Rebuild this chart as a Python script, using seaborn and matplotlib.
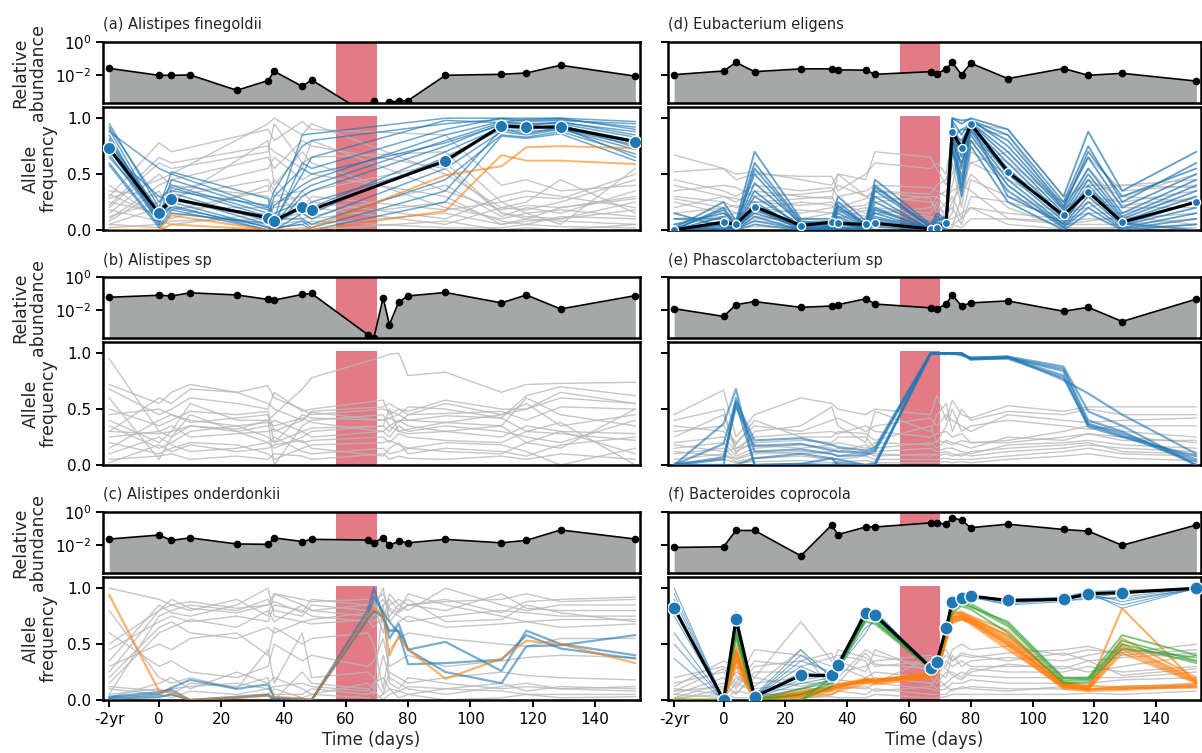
import numpy as np
import pandas as pd
import matplotlib
matplotlib.use("Agg")
import matplotlib.pyplot as plt
import seaborn as sns
from matplotlib.ticker import FixedLocator, NullLocator

# --- sampling times (days); -2yr sample drawn at -16 ---
TIMES = [-16, 0, 4, 10, 25, 35, 37, 46, 49, 67, 69, 72, 74, 77, 80, 92, 110, 118, 129, 153]
TIMES_A = [-16, 0, 4, 35, 37, 46, 49, 92, 110, 118, 129, 153]
TIMES_B = [-16, 0, 4, 10, 25, 35, 37, 46, 49, 72, 74, 77, 80, 92, 110, 118, 129, 153]
XTICKS = [-16, 0, 20, 40, 60, 80, 100, 120, 140]
XTICKLABELS = ['-2yr', '0', '20', '40', '60', '80', '100', '120', '140']
ABX_START, ABX_END = 57, 70

TITLES = ['(a) Alistipes finegoldii', '(b) Alistipes sp', '(c) Alistipes onderdonkii',
          '(d) Eubacterium eligens', '(e) Phascolarctobacterium sp', '(f) Bacteroides coprocola']

# --- relative abundance, log10 ---
labund_a = [-1.6, -2.02, -2.02, -2.0, -2.93, -2.34, -1.78, -2.69, -2.3, -4.4, -3.6, -4.0,
            -3.62, -3.6, -3.55, -2.02, -1.96, -1.88, -1.41, -2.07]
labund_b = [-1.23, -1.11, -1.15, -0.96, -1.09, -1.36, -1.4, -1.06, -1.0, -3.49, -3.7, -1.26,
            -2.89, -1.51, -1.15, -0.94, -1.57, -1.09, -1.94, -1.13]
labund_c = [-1.64, -1.4, -1.72, -1.57, -1.94, -1.96, -1.57, -1.79, -1.66, -1.7, -1.87, -1.55,
            -2.02, -1.77, -1.87, -1.66, -1.87, -1.72, -1.09, -1.64]
labund_d = [-1.98, -1.76, -1.24, -1.8, -1.63, -1.63, -1.69, -1.71, -1.96, -1.8, -1.94, -1.63,
            -1.24, -1.98, -1.29, -2.22, -1.61, -2.02, -1.9, -2.37]
labund_e = [-1.92, -2.39, -1.68, -1.49, -1.84, -1.76, -1.68, -1.32, -1.64, -1.87, -1.95, -1.64,
            -1.09, -1.76, -1.57, -1.45, -2.08, -1.84, -2.7, -1.34]
labund_f = [-2.15, -2.11, -1.12, -1.12, -2.66, -0.79, -1.37, -0.91, -0.91, -0.66, -0.66, -0.74,
            -0.34, -0.51, -0.95, -0.74, -1.06, -1.16, -2.02, -0.79]

# --- allele frequencies: (a) Alistipes finegoldii ---
mean_a = [0.73, 0.15, 0.28, 0.11, 0.08, 0.21, 0.18, 0.62, 0.93, 0.92, 0.92, 0.79]
blue_a = [
    [0.95, 0.20, 0.52, 0.28, 0.10, 0.85, 0.86, 1.00, 1.00, 1.00, 1.00, 0.97],
    [0.90, 0.12, 0.45, 0.18, 0.05, 0.60, 0.55, 0.90, 1.00, 0.98, 0.99, 0.92],
    [0.85, 0.08, 0.38, 0.12, 0.22, 0.40, 0.45, 0.85, 0.97, 0.95, 0.96, 0.88],
    [0.80, 0.05, 0.33, 0.08, 0.02, 0.30, 0.35, 0.75, 0.95, 0.93, 0.97, 0.85],
    [0.78, 0.18, 0.30, 0.05, 0.15, 0.25, 0.20, 0.70, 0.92, 0.90, 0.93, 0.80],
    [0.75, 0.10, 0.27, 0.10, 0.05, 0.20, 0.15, 0.65, 0.90, 0.88, 0.90, 0.76],
    [0.70, 0.30, 0.25, 0.02, 0.00, 0.15, 0.10, 0.55, 0.88, 0.85, 0.90, 0.72],
    [0.68, 0.07, 0.22, 0.00, 0.10, 0.10, 0.05, 0.45, 0.85, 0.83, 0.88, 0.68],
    [0.65, 0.15, 0.20, 0.03, 0.00, 0.08, 0.02, 0.35, 0.90, 0.86, 0.92, 0.65],
    [0.60, 0.04, 0.18, 0.00, 0.02, 0.05, 0.00, 0.25, 0.84, 0.82, 0.86, 0.62],
    [0.88, 0.55, 0.50, 0.20, 0.35, 0.75, 0.80, 0.95, 0.99, 0.97, 0.98, 0.95],
    [0.92, 0.25, 0.40, 0.15, 0.08, 0.50, 0.65, 0.98, 0.96, 0.99, 1.00, 0.90],
    [0.58, 0.02, 0.15, 0.06, 0.12, 0.18, 0.25, 0.60, 0.93, 0.91, 0.94, 0.74],
    [0.82, 0.12, 0.35, 0.22, 0.05, 0.35, 0.40, 0.80, 0.96, 0.95, 0.95, 0.83],
    [0.72, 0.08, 0.28, 0.12, 0.30, 0.55, 0.50, 0.78, 0.94, 0.92, 0.91, 0.78],
]
orange_a = [
    [0.00, 0.00, 0.13, 0.00, 0.00, 0.00, 0.02, 0.49, 0.57, 0.74, 0.75, 0.73],
    [0.00, 0.00, 0.05, 0.00, 0.00, 0.00, 0.00, 0.17, 0.67, 0.62, 0.62, 0.59],
]
gray_a = [
    [0.30, 0.78, 0.70, 0.90, 0.80, 0.97, 0.90, 0.85, 0.40, 0.45, 0.35, 0.40],
    [0.20, 0.60, 0.55, 0.70, 0.95, 0.60, 0.65, 0.70, 0.25, 0.30, 0.28, 0.50],
    [0.10, 0.40, 0.45, 0.65, 0.55, 0.80, 0.75, 0.55, 0.15, 0.10, 0.20, 0.30],
    [0.35, 0.30, 0.35, 0.55, 0.65, 0.45, 0.50, 0.30, 0.05, 0.08, 0.10, 0.25],
    [0.05, 0.20, 0.25, 0.80, 0.40, 0.70, 0.60, 0.20, 0.10, 0.15, 0.05, 0.55],
    [0.25, 0.15, 0.10, 0.40, 0.30, 0.35, 0.25, 0.10, 0.30, 0.35, 0.30, 0.20],
    [0.15, 0.50, 0.40, 0.30, 0.20, 0.25, 0.20, 0.05, 0.20, 0.25, 0.45, 0.15],
    [0.40, 0.10, 0.20, 0.20, 0.10, 0.15, 0.10, 0.25, 0.08, 0.05, 0.12, 0.10],
    [0.02, 0.05, 0.08, 0.10, 0.05, 0.08, 0.05, 0.15, 0.05, 0.10, 0.08, 0.05],
    [0.12, 0.25, 0.30, 0.45, 0.35, 0.10, 0.12, 0.40, 0.12, 0.20, 0.15, 0.35],
    [0.08, 0.35, 0.15, 0.05, 0.02, 0.05, 0.08, 0.02, 0.02, 0.05, 0.03, 0.02],
    [0.28, 0.45, 0.50, 0.95, 1.00, 0.85, 0.95, 0.50, 0.20, 0.18, 0.25, 0.45],
    [0.18, 0.08, 0.05, 0.15, 0.25, 0.30, 0.35, 0.60, 0.15, 0.12, 0.10, 0.18],
    [0.05, 0.02, 0.00, 0.00, 0.00, 0.02, 0.00, 0.08, 0.00, 0.02, 0.00, 0.05],
    [0.22, 0.65, 0.60, 0.75, 0.70, 0.55, 0.80, 0.35, 0.18, 0.22, 0.20, 0.28],
    [0.32, 0.12, 0.18, 0.35, 0.45, 0.20, 0.30, 0.18, 0.25, 0.15, 0.18, 0.12],
]

# --- (b) Alistipes sp ---
gray_b = [
    [0.30, 0.28, 0.30, 0.35, 0.32, 0.40, 0.45, 0.68, 0.78, 0.97, 0.99, 1.00, 0.80, 0.83, 0.65, 0.72, 0.73, 0.74],
    [0.95, 0.30, 0.25, 0.35, 0.30, 0.20, 0.15, 0.25, 0.30, 0.35, 0.30, 0.40, 0.35, 0.30, 0.25, 0.35, 0.30, 0.28],
    [0.72, 0.55, 0.65, 0.72, 0.65, 0.71, 0.60, 0.50, 0.45, 0.50, 0.48, 0.45, 0.52, 0.50, 0.42, 0.62, 0.70, 0.62],
    [0.68, 0.45, 0.50, 0.60, 0.55, 0.50, 0.65, 0.48, 0.50, 0.58, 0.45, 0.50, 0.48, 0.58, 0.50, 0.50, 0.65, 0.55],
    [0.50, 0.35, 0.40, 0.48, 0.45, 0.48, 0.30, 0.40, 0.47, 0.40, 0.42, 0.38, 0.45, 0.46, 0.48, 0.40, 0.52, 0.50],
    [0.40, 0.20, 0.30, 0.55, 0.40, 0.40, 0.00, 0.35, 0.40, 0.45, 0.35, 0.40, 0.40, 0.38, 0.45, 0.55, 0.35, 0.45],
    [0.35, 0.15, 0.20, 0.30, 0.35, 0.25, 0.20, 0.30, 0.25, 0.30, 0.25, 0.35, 0.30, 0.35, 0.30, 0.25, 0.20, 0.40],
    [0.25, 0.30, 0.35, 0.25, 0.28, 0.30, 0.32, 0.20, 0.22, 0.25, 0.20, 0.28, 0.25, 0.22, 0.20, 0.30, 0.28, 0.22],
    [0.20, 0.10, 0.15, 0.20, 0.18, 0.10, 0.05, 0.15, 0.18, 0.20, 0.22, 0.18, 0.15, 0.20, 0.18, 0.12, 0.00, 0.15],
    [0.15, 0.40, 0.45, 0.40, 0.35, 0.38, 0.35, 0.42, 0.38, 0.30, 0.35, 0.30, 0.32, 0.38, 0.35, 0.20, 0.30, 0.10],
    [0.10, 0.25, 0.18, 0.12, 0.15, 0.20, 0.25, 0.12, 0.10, 0.15, 0.10, 0.12, 0.15, 0.12, 0.10, 0.20, 0.15, 0.50],
    [0.05, 0.08, 0.10, 0.05, 0.08, 0.05, 0.10, 0.08, 0.05, 0.10, 0.05, 0.08, 0.06, 0.05, 0.08, 0.05, 0.10, 0.05],
    [0.60, 0.05, 0.25, 0.45, 0.30, 0.35, 0.40, 0.30, 0.33, 0.35, 0.50, 0.30, 0.28, 0.30, 0.35, 0.60, 0.45, 0.35],
    [0.45, 0.50, 0.45, 0.38, 0.42, 0.45, 0.20, 0.45, 0.42, 0.40, 0.42, 0.45, 0.40, 0.44, 0.42, 0.30, 0.38, 0.00],
    [0.02, 0.18, 0.12, 0.18, 0.12, 0.15, 0.18, 0.22, 0.15, 0.08, 0.15, 0.20, 0.10, 0.15, 0.12, 0.08, 0.18, 0.25],
    [0.30, 0.60, 0.55, 0.68, 0.65, 0.55, 0.50, 0.40, 0.48, 0.52, 0.55, 0.50, 0.45, 0.55, 0.45, 0.50, 0.60, 0.55],
]

# --- (c) Alistipes onderdonkii ---
blue_c = [
    [0.02, 0.05, 0.11, 0.18, 0.10, 0.14, 0.02, 0.01, 0.00, 0.80, 1.00, 0.75, 0.55, 0.68, 0.45, 0.52, 0.26, 0.62, 0.50, 0.40],
    [0.03, 0.07, 0.09, 0.00, 0.03, 0.05, 0.01, 0.01, 0.00, 0.75, 0.92, 0.78, 0.70, 0.60, 0.32, 0.33, 0.36, 0.58, 0.46, 0.37],
    [0.01, 0.03, 0.05, 0.00, 0.02, 0.04, 0.00, 0.00, 0.00, 0.72, 0.80, 0.74, 0.62, 0.62, 0.45, 0.25, 0.15, 0.48, 0.49, 0.58],
]
orange_c = [
    [0.94, 0.08, 0.07, 0.00, 0.02, 0.04, 0.03, 0.01, 0.00, 0.75, 0.82, 0.76, 0.40, 0.57, 0.45, 0.19, 0.37, 0.53, 0.50, 0.33],
]
gray_c = [
    [0.25, 0.80, 0.85, 0.80, 0.90, 0.75, 0.95, 0.85, 0.80, 0.85, 0.90, 0.70, 0.95, 0.85, 0.80, 1.00, 0.85, 0.80, 0.85, 0.85],
    [0.05, 0.75, 0.80, 0.85, 0.80, 0.90, 0.80, 0.75, 0.85, 0.80, 0.75, 0.85, 0.90, 0.80, 0.85, 0.80, 0.95, 0.82, 0.80, 0.80],
    [0.45, 0.70, 0.75, 0.70, 0.75, 0.70, 0.85, 0.80, 0.75, 0.70, 0.80, 0.90, 0.80, 0.75, 0.70, 0.75, 0.80, 0.78, 0.75, 0.75],
    [0.35, 0.85, 0.78, 0.75, 0.85, 1.00, 0.75, 0.70, 0.72, 0.78, 0.70, 0.80, 0.75, 0.85, 0.90, 0.70, 0.72, 0.85, 0.78, 0.70],
    [0.15, 0.60, 0.65, 0.72, 0.65, 0.80, 0.70, 0.85, 0.80, 0.75, 0.82, 1.00, 0.70, 0.80, 0.95, 0.85, 0.75, 0.70, 0.72, 0.72],
    [1.00, 0.90, 0.85, 0.88, 0.82, 0.85, 0.95, 0.90, 0.88, 0.90, 0.85, 0.60, 0.85, 0.90, 0.85, 0.88, 0.90, 0.95, 0.88, 0.90],
    [0.30, 0.50, 0.45, 0.55, 0.60, 0.40, 0.65, 0.50, 0.55, 0.60, 0.50, 0.10, 0.45, 0.55, 0.60, 0.55, 0.50, 0.48, 0.55, 0.55],
    [0.05, 0.10, 0.05, 0.15, 0.12, 0.20, 0.00, 0.25, 0.15, 0.10, 0.05, 0.40, 0.20, 0.15, 0.10, 0.05, 0.12, 0.15, 0.10, 0.08],
    [0.10, 0.05, 0.02, 0.08, 0.05, 0.10, 0.05, 0.05, 0.10, 0.05, 0.08, 0.00, 0.05, 0.08, 0.05, 0.10, 0.08, 0.05, 0.05, 0.05],
    [0.02, 0.15, 0.20, 0.10, 0.25, 0.15, 0.20, 0.10, 0.05, 0.15, 0.10, 0.85, 0.15, 0.10, 0.20, 0.15, 0.10, 0.12, 0.10, 0.12],
    [0.60, 0.30, 0.35, 0.25, 0.20, 0.30, 0.50, 0.35, 0.40, 0.30, 0.35, 0.55, 0.30, 0.35, 0.40, 0.30, 0.35, 0.38, 0.40, 0.38],
    [0.00, 0.02, 0.05, 0.00, 0.02, 0.05, 0.10, 0.02, 0.05, 0.02, 0.00, 0.05, 0.10, 0.02, 0.05, 0.00, 0.02, 0.05, 0.02, 0.03],
    [0.20, 0.65, 0.70, 0.60, 0.55, 0.65, 0.60, 0.70, 0.68, 0.72, 0.65, 0.75, 0.60, 0.70, 0.75, 0.65, 0.68, 0.70, 0.65, 0.68],
    [0.80, 0.20, 0.15, 0.20, 0.10, 0.45, 0.15, 0.60, 0.20, 0.25, 0.20, 0.05, 0.25, 0.20, 0.15, 0.20, 0.25, 0.22, 0.20, 0.18],
    [0.50, 0.80, 0.90, 0.82, 0.78, 0.85, 0.88, 0.78, 0.90, 0.85, 0.88, 0.95, 0.82, 0.78, 0.85, 0.90, 0.78, 0.88, 0.90, 0.92],
    [0.12, 0.08, 0.10, 0.12, 0.15, 0.10, 0.12, 0.15, 0.12, 0.08, 0.15, 0.20, 0.10, 0.08, 0.12, 0.10, 0.15, 0.08, 0.12, 0.10],
]

# --- (d) Eubacterium eligens ---
mean_d = [0.00, 0.07, 0.05, 0.21, 0.04, 0.07, 0.06, 0.05, 0.06, 0.01, 0.02, 0.06, 0.88, 0.73,
          0.95, 0.52, 0.13, 0.34, 0.07, 0.25]
blue_d = [
    [0.02, 0.25, 0.08, 0.70, 0.10, 0.10, 0.30, 0.08, 0.45, 0.05, 0.15, 0.10, 1.00, 0.95, 1.00, 0.90, 0.30, 0.88, 0.35, 0.70],
    [0.00, 0.20, 0.05, 0.60, 0.08, 0.05, 0.25, 0.05, 0.40, 0.02, 0.10, 0.08, 0.98, 0.85, 0.98, 0.85, 0.25, 0.75, 0.25, 0.60],
    [0.05, 0.15, 0.06, 0.50, 0.05, 0.08, 0.20, 0.06, 0.35, 0.03, 0.08, 0.12, 0.95, 0.75, 0.97, 0.80, 0.22, 0.65, 0.20, 0.50],
    [0.00, 0.12, 0.04, 0.42, 0.06, 0.04, 0.18, 0.04, 0.30, 0.00, 0.05, 0.05, 0.93, 0.65, 0.96, 0.70, 0.18, 0.55, 0.15, 0.45],
    [0.10, 0.10, 0.03, 0.35, 0.02, 0.06, 0.15, 0.03, 0.25, 0.01, 0.04, 0.10, 0.90, 0.55, 0.95, 0.65, 0.15, 0.50, 0.12, 0.40],
    [0.00, 0.08, 0.02, 0.30, 0.04, 0.03, 0.12, 0.02, 0.20, 0.00, 0.02, 0.06, 0.88, 0.45, 0.93, 0.60, 0.12, 0.45, 0.10, 0.35],
    [0.02, 0.06, 0.01, 0.25, 0.01, 0.02, 0.10, 0.01, 0.15, 0.00, 0.01, 0.04, 0.85, 0.35, 0.92, 0.55, 0.10, 0.40, 0.08, 0.30],
    [0.00, 0.04, 0.00, 0.20, 0.00, 0.01, 0.08, 0.00, 0.12, 0.00, 0.00, 0.03, 0.82, 0.90, 0.90, 0.50, 0.08, 0.35, 0.05, 0.25],
    [0.15, 0.03, 0.02, 0.15, 0.03, 0.00, 0.05, 0.02, 0.10, 0.00, 0.03, 0.02, 0.80, 0.70, 0.88, 0.45, 0.05, 0.30, 0.04, 0.20],
    [0.00, 0.02, 0.00, 0.12, 0.00, 0.02, 0.03, 0.00, 0.08, 0.00, 0.00, 0.01, 0.78, 0.60, 0.85, 0.40, 0.03, 0.25, 0.02, 0.15],
    [0.03, 0.01, 0.01, 0.08, 0.01, 0.00, 0.02, 0.01, 0.05, 0.00, 0.01, 0.00, 0.75, 0.40, 0.80, 0.35, 0.02, 0.20, 0.01, 0.10],
    [0.00, 0.00, 0.00, 0.05, 0.00, 0.01, 0.01, 0.00, 0.03, 0.00, 0.00, 0.00, 0.72, 0.30, 0.75, 0.25, 0.00, 0.15, 0.00, 0.05],
    [0.01, 0.18, 0.03, 0.55, 0.07, 0.07, 0.22, 0.04, 0.38, 0.04, 0.12, 0.09, 1.00, 0.98, 0.99, 0.75, 0.20, 0.70, 0.30, 0.55],
    [0.00, 0.05, 0.00, 0.18, 0.02, 0.03, 0.06, 0.02, 0.18, 0.01, 0.06, 0.05, 0.87, 0.80, 0.94, 0.30, 0.06, 0.38, 0.06, 0.00],
]
gray_d = [
    [0.67, 0.55, 0.45, 0.50, 0.48, 0.48, 0.35, 0.50, 0.60, 0.55, 0.60, 0.50, 0.85, 0.90, 0.95, 0.90, 0.30, 0.40, 0.40, 0.45],
    [0.52, 0.55, 0.50, 0.52, 0.45, 0.40, 0.50, 0.45, 0.70, 0.65, 0.55, 0.40, 0.60, 0.20, 0.70, 0.50, 0.25, 0.65, 0.35, 0.40],
    [0.45, 0.35, 0.30, 0.40, 0.35, 0.38, 0.30, 0.35, 0.40, 0.38, 0.35, 0.30, 0.35, 0.40, 0.60, 0.45, 0.20, 0.30, 0.25, 0.35],
    [0.40, 0.30, 0.25, 0.35, 0.30, 0.28, 0.50, 0.30, 0.25, 0.30, 0.30, 0.20, 0.30, 0.10, 0.45, 0.30, 0.15, 0.20, 0.30, 0.25],
    [0.30, 0.25, 0.20, 0.25, 0.22, 0.25, 0.20, 0.22, 0.30, 0.25, 0.20, 0.15, 0.20, 0.05, 0.30, 0.25, 0.12, 0.25, 0.20, 0.20],
    [0.25, 0.15, 0.10, 0.20, 0.15, 0.20, 0.25, 0.15, 0.20, 0.15, 0.25, 0.10, 0.10, 0.15, 0.20, 0.15, 0.10, 0.15, 0.15, 0.30],
    [0.15, 0.20, 0.15, 0.15, 0.18, 0.15, 0.10, 0.18, 0.15, 0.10, 0.08, 0.05, 0.05, 0.02, 0.10, 0.10, 0.08, 0.10, 0.10, 0.15],
    [0.10, 0.05, 0.08, 0.10, 0.10, 0.08, 0.12, 0.10, 0.10, 0.05, 0.05, 0.08, 0.15, 0.60, 0.80, 0.40, 0.05, 0.05, 0.05, 0.10],
    [0.05, 0.10, 0.05, 0.08, 0.05, 0.05, 0.05, 0.05, 0.05, 0.02, 0.02, 0.02, 0.02, 0.30, 0.50, 0.20, 0.02, 0.02, 0.02, 0.05],
    [0.35, 0.40, 0.38, 0.30, 0.32, 0.35, 0.40, 0.30, 0.35, 0.32, 0.40, 0.45, 0.70, 0.50, 0.80, 0.60, 0.25, 0.45, 0.30, 0.50],
    [0.20, 0.30, 0.28, 0.25, 0.28, 0.30, 0.20, 0.28, 0.35, 0.28, 0.15, 0.25, 0.40, 0.80, 0.90, 0.85, 0.18, 0.35, 0.40, 0.38],
    [0.02, 0.01, 0.02, 0.03, 0.02, 0.01, 0.02, 0.03, 0.02, 0.01, 0.02, 0.01, 0.05, 0.10, 0.20, 0.05, 0.01, 0.01, 0.02, 0.02],
    [0.10, 0.12, 0.15, 0.12, 0.10, 0.15, 0.18, 0.12, 0.15, 0.20, 0.30, 0.35, 0.50, 0.70, 0.60, 0.70, 0.20, 0.55, 0.22, 0.28],
    [0.28, 0.20, 0.22, 0.18, 0.25, 0.22, 0.15, 0.20, 0.18, 0.12, 0.10, 0.12, 0.25, 0.40, 0.35, 0.10, 0.05, 0.08, 0.12, 0.05],
]

# --- (e) Phascolarctobacterium sp ---
blue_e = [
    [0.00, 0.37, 0.68, 0.00, 0.01, 0.06, 0.00, 0.00, 0.00, 1.00, 1.00, 1.00, 1.00, 0.99, 0.96, 0.97, 0.88, 0.48, 0.35, 0.00],
    [0.00, 0.19, 0.57, 0.22, 0.24, 0.18, 0.16, 0.13, 0.16, 1.00, 1.00, 1.00, 1.00, 1.00, 0.95, 0.96, 0.84, 0.37, 0.28, 0.05],
    [0.00, 0.07, 0.52, 0.17, 0.19, 0.13, 0.12, 0.11, 0.14, 1.00, 1.00, 0.99, 1.00, 0.99, 0.94, 0.96, 0.80, 0.34, 0.25, 0.08],
    [0.00, 0.00, 0.60, 0.12, 0.14, 0.10, 0.08, 0.09, 0.12, 1.00, 1.00, 1.00, 0.99, 1.00, 0.95, 0.95, 0.78, 0.36, 0.26, 0.03],
    [0.00, 0.00, 0.00, 0.06, 0.10, 0.06, 0.05, 0.00, 0.00, 0.99, 1.00, 1.00, 1.00, 0.98, 0.96, 0.97, 0.76, 0.64, 0.45, 0.10],
    [0.00, 0.05, 0.55, 0.00, 0.01, 0.00, 0.02, 0.00, 0.02, 1.00, 0.99, 1.00, 1.00, 1.00, 0.95, 0.96, 0.86, 0.40, 0.30, 0.00],
]
gray_e = [
    [0.45, 0.67, 0.25, 0.45, 0.60, 0.55, 0.50, 0.45, 0.50, 0.45, 0.62, 0.40, 0.58, 0.45, 0.42, 0.53, 0.48, 0.52, 0.52, 0.52],
    [0.40, 0.50, 0.10, 0.30, 0.35, 0.52, 0.35, 0.20, 0.48, 0.30, 0.45, 0.55, 0.30, 0.50, 0.40, 0.48, 0.45, 0.50, 0.45, 0.45],
    [0.30, 0.35, 0.20, 0.35, 0.30, 0.40, 0.42, 0.30, 0.35, 0.42, 0.35, 0.45, 0.40, 0.35, 0.30, 0.45, 0.40, 0.38, 0.40, 0.42],
    [0.25, 0.45, 0.15, 0.25, 0.28, 0.30, 0.28, 0.35, 0.30, 0.25, 0.28, 0.30, 0.25, 0.28, 0.20, 0.22, 0.30, 0.35, 0.30, 0.25],
    [0.20, 0.25, 0.12, 0.20, 0.22, 0.20, 0.25, 0.25, 0.15, 0.20, 0.15, 0.22, 0.20, 0.18, 0.15, 0.25, 0.22, 0.28, 0.25, 0.20],
    [0.15, 0.20, 0.08, 0.15, 0.18, 0.15, 0.12, 0.18, 0.12, 0.15, 0.12, 0.15, 0.15, 0.12, 0.10, 0.18, 0.20, 0.22, 0.18, 0.15],
    [0.10, 0.15, 0.05, 0.10, 0.12, 0.10, 0.08, 0.12, 0.08, 0.10, 0.08, 0.10, 0.08, 0.10, 0.08, 0.12, 0.15, 0.18, 0.15, 0.12],
    [0.05, 0.10, 0.03, 0.06, 0.08, 0.05, 0.05, 0.08, 0.05, 0.05, 0.05, 0.06, 0.05, 0.05, 0.05, 0.08, 0.12, 0.15, 0.10, 0.08],
    [0.02, 0.05, 0.02, 0.03, 0.04, 0.02, 0.03, 0.04, 0.02, 0.02, 0.02, 0.03, 0.02, 0.03, 0.02, 0.05, 0.08, 0.10, 0.06, 0.04],
    [0.35, 0.30, 0.18, 0.40, 0.25, 0.25, 0.30, 0.28, 0.22, 0.35, 0.20, 0.35, 0.50, 0.30, 0.35, 0.40, 0.35, 0.32, 0.35, 0.35],
    [0.18, 0.12, 0.15, 0.18, 0.15, 0.18, 0.20, 0.15, 0.20, 0.18, 0.22, 0.20, 0.18, 0.22, 0.20, 0.20, 0.25, 0.28, 0.22, 0.22],
    [0.12, 0.08, 0.06, 0.12, 0.10, 0.12, 0.15, 0.10, 0.10, 0.08, 0.10, 0.12, 0.10, 0.08, 0.12, 0.15, 0.18, 0.20, 0.12, 0.10],
]

# --- (f) Bacteroides coprocola ---
mean_f = [0.82, 0.00, 0.72, 0.03, 0.22, 0.22, 0.31, 0.78, 0.76, 0.29, 0.34, 0.64, 0.88, 0.91,
          0.93, 0.89, 0.90, 0.95, 0.96, 1.00]
blue_f = [
    [1.00, 0.00, 0.79, 0.04, 0.45, 0.20, 0.30, 0.80, 0.78, 0.30, 0.33, 0.64, 0.88, 0.91, 0.93, 0.87, 0.92, 0.97, 0.98, 1.00],
    [0.95, 0.00, 0.74, 0.03, 0.35, 0.25, 0.28, 0.82, 0.80, 0.28, 0.32, 0.62, 0.87, 0.90, 0.92, 0.85, 0.88, 0.92, 0.95, 1.00],
    [0.85, 0.00, 0.70, 0.03, 0.30, 0.18, 0.35, 0.76, 0.74, 0.27, 0.35, 0.65, 0.89, 0.92, 0.94, 0.88, 0.89, 0.90, 0.92, 1.00],
    [0.75, 0.00, 0.68, 0.02, 0.25, 0.20, 0.32, 0.72, 0.76, 0.30, 0.34, 0.63, 0.88, 0.90, 0.92, 0.90, 0.90, 0.93, 0.90, 0.99],
    [0.60, 0.00, 0.66, 0.02, 0.15, 0.20, 0.30, 0.65, 0.70, 0.29, 0.33, 0.64, 0.87, 0.91, 0.93, 0.89, 0.91, 0.95, 0.88, 1.00],
    [0.50, 0.00, 0.72, 0.03, 0.18, 0.22, 0.28, 0.79, 0.77, 0.31, 0.34, 0.66, 0.89, 0.90, 0.92, 0.86, 0.90, 0.94, 0.85, 1.00],
    [0.37, 0.00, 0.70, 0.02, 0.10, 0.15, 0.29, 0.60, 0.74, 0.28, 0.33, 0.63, 0.88, 0.92, 0.93, 0.88, 0.91, 0.96, 0.82, 1.00],
    [0.90, 0.00, 0.75, 0.03, 0.40, 0.22, 0.31, 0.82, 0.78, 0.30, 0.35, 0.64, 0.88, 0.91, 0.93, 0.90, 0.92, 0.96, 0.97, 1.00],
]
green_f = [
    [0.00, 0.00, 0.62, 0.00, 0.00, 0.12, 0.30, 0.76, 0.73, 0.30, 0.33, 0.65, 0.80, 0.86, 0.83, 0.70, 0.20, 0.20, 0.58, 0.40],
    [0.00, 0.00, 0.58, 0.00, 0.10, 0.18, 0.28, 0.74, 0.70, 0.29, 0.32, 0.62, 0.84, 0.88, 0.86, 0.68, 0.19, 0.19, 0.53, 0.35],
    [0.00, 0.00, 0.60, 0.00, 0.05, 0.15, 0.26, 0.72, 0.72, 0.31, 0.34, 0.63, 0.82, 0.87, 0.84, 0.66, 0.17, 0.18, 0.50, 0.33],
    [0.00, 0.00, 0.55, 0.00, 0.00, 0.20, 0.32, 0.70, 0.68, 0.28, 0.31, 0.60, 0.78, 0.84, 0.81, 0.60, 0.15, 0.16, 0.46, 0.38],
]
orange_f = [
    [0.00, 0.00, 0.49, 0.02, 0.06, 0.10, 0.12, 0.17, 0.16, 0.22, 0.24, 0.60, 0.78, 0.79, 0.75, 0.62, 0.15, 0.12, 0.55, 0.20],
    [0.00, 0.00, 0.45, 0.00, 0.05, 0.09, 0.13, 0.18, 0.17, 0.21, 0.23, 0.58, 0.76, 0.77, 0.73, 0.58, 0.14, 0.11, 0.50, 0.18],
    [0.00, 0.00, 0.42, 0.01, 0.04, 0.11, 0.11, 0.19, 0.18, 0.23, 0.25, 0.56, 0.74, 0.76, 0.72, 0.55, 0.12, 0.10, 0.45, 0.16],
    [0.00, 0.00, 0.40, 0.00, 0.07, 0.12, 0.14, 0.16, 0.17, 0.24, 0.26, 0.55, 0.73, 0.75, 0.70, 0.52, 0.13, 0.09, 0.42, 0.15],
    [0.00, 0.00, 0.38, 0.02, 0.03, 0.08, 0.10, 0.17, 0.16, 0.22, 0.24, 0.57, 0.72, 0.74, 0.71, 0.50, 0.11, 0.10, 0.10, 0.14],
    [0.00, 0.00, 0.36, 0.00, 0.05, 0.10, 0.12, 0.18, 0.17, 0.21, 0.23, 0.54, 0.70, 0.72, 0.69, 0.48, 0.10, 0.08, 0.09, 0.12],
    [0.00, 0.00, 0.35, 0.01, 0.06, 0.09, 0.13, 0.16, 0.18, 0.23, 0.25, 0.56, 0.71, 0.73, 0.68, 0.45, 0.12, 0.09, 0.12, 0.13],
    [0.00, 0.00, 0.42, 0.00, 0.04, 0.11, 0.12, 0.18, 0.16, 0.22, 0.24, 0.58, 0.74, 0.75, 0.72, 0.53, 0.13, 0.11, 0.82, 0.15],
    [0.00, 0.00, 0.30, 0.00, 0.02, 0.05, 0.08, 0.15, 0.14, 0.20, 0.22, 0.52, 0.69, 0.72, 0.70, 0.50, 0.14, 0.12, 0.48, 0.17],
    [0.00, 0.00, 0.44, 0.01, 0.08, 0.12, 0.14, 0.19, 0.18, 0.24, 0.26, 0.59, 0.77, 0.78, 0.74, 0.57, 0.16, 0.13, 0.11, 0.11],
]
gray_f = [
    [0.12, 0.35, 0.30, 0.20, 0.70, 0.35, 0.25, 0.30, 0.35, 0.40, 0.35, 0.30, 0.45, 0.50, 0.45, 0.48, 0.40, 0.45, 0.42, 0.50],
    [0.08, 0.28, 0.15, 0.45, 0.40, 0.30, 0.45, 0.38, 0.30, 0.35, 0.30, 0.40, 0.35, 0.40, 0.38, 0.42, 0.45, 0.48, 0.40, 0.45],
    [0.05, 0.20, 0.10, 0.30, 0.35, 0.42, 0.20, 0.45, 0.40, 0.30, 0.25, 0.20, 0.40, 0.30, 0.35, 0.38, 0.35, 0.40, 0.45, 0.35],
    [0.02, 0.15, 0.05, 0.25, 0.25, 0.20, 0.35, 0.25, 0.45, 0.25, 0.20, 0.35, 0.30, 0.35, 0.30, 0.30, 0.30, 0.25, 0.30, 0.40],
    [0.00, 0.10, 0.25, 0.15, 0.20, 0.25, 0.30, 0.20, 0.25, 0.20, 0.15, 0.25, 0.25, 0.20, 0.28, 0.25, 0.25, 0.30, 0.25, 0.30],
    [0.10, 0.05, 0.20, 0.10, 0.15, 0.15, 0.18, 0.15, 0.20, 0.15, 0.10, 0.15, 0.20, 0.25, 0.22, 0.20, 0.20, 0.20, 0.20, 0.25],
    [0.05, 0.02, 0.15, 0.08, 0.10, 0.10, 0.12, 0.10, 0.15, 0.10, 0.08, 0.10, 0.15, 0.15, 0.18, 0.15, 0.15, 0.15, 0.18, 0.20],
    [0.00, 0.00, 0.08, 0.05, 0.05, 0.05, 0.08, 0.05, 0.10, 0.05, 0.05, 0.05, 0.10, 0.10, 0.12, 0.10, 0.10, 0.10, 0.12, 0.15],
    [0.15, 0.25, 0.12, 0.35, 0.30, 0.38, 0.40, 0.35, 0.15, 0.38, 0.40, 0.45, 0.35, 0.42, 0.40, 0.35, 0.42, 0.35, 0.38, 0.42],
    [0.02, 0.05, 0.02, 0.02, 0.02, 0.03, 0.02, 0.02, 0.05, 0.02, 0.02, 0.03, 0.05, 0.05, 0.05, 0.05, 0.05, 0.06, 0.05, 0.08],
    [0.20, 0.30, 0.22, 0.12, 0.45, 0.10, 0.15, 0.42, 0.32, 0.28, 0.32, 0.28, 0.22, 0.18, 0.25, 0.32, 0.28, 0.35, 0.22, 0.28],
    [0.08, 0.12, 0.06, 0.20, 0.12, 0.18, 0.10, 0.12, 0.08, 0.12, 0.20, 0.12, 0.08, 0.12, 0.10, 0.08, 0.12, 0.10, 0.10, 0.12],
]

GRAY_LINE = '#b8b8b8'
BLUE = '#1f77b4'
ORANGE = '#ff7f0e'
GREEN = '#2ca02c'
FILL = '#a5a8a6'
SPAN = '#e27b85'

sns.set_style('ticks')
plt.rcParams.update({
    'font.family': ['DejaVu Sans'],
    'axes.linewidth': 1.8,
    'axes.edgecolor': 'black',
    'xtick.major.width': 1.4,
    'ytick.major.width': 1.4,
    'xtick.major.size': 5,
    'ytick.major.size': 5,
    'xtick.labelsize': 11,
    'ytick.labelsize': 11,
    'xtick.color': 'black',
    'ytick.color': 'black',
})

W, H = 1202, 753
fig = plt.figure(figsize=(W / 100, H / 100), dpi=100)


def add_axes_px(x0, x1, y0, y1):
    return fig.add_axes([x0 / W, 1 - y1 / H, (x1 - x0) / W, (y1 - y0) / H])


def long_form(times, rows):
    recs = []
    for i, row in enumerate(rows):
        for t, v in zip(times, row):
            recs.append((i, t, v))
    return pd.DataFrame(recs, columns=['line', 'time', 'freq'])


def draw_lines(ax, times, rows, color, lw, alpha, zorder):
    if not rows:
        return
    df = long_form(times, rows)
    sns.lineplot(data=df, x='time', y='freq', units='line', estimator=None,
                 color=color, lw=lw, alpha=alpha, legend=False, ax=ax, zorder=zorder)


def draw_abundance(ax, labund, title, first_col):
    vals = [10 ** v for v in labund]
    ax.axvspan(ABX_START, ABX_END, color=SPAN, lw=0, zorder=0)
    ax.fill_between(TIMES, vals, 1e-9, color=FILL, lw=0, zorder=1)
    sns.lineplot(x=TIMES, y=vals, color='black', lw=1.2, marker='o', markersize=5.5,
                 markeredgewidth=0, ax=ax, zorder=3, sort=False)
    ax.set_yscale('log')
    ax.set_ylim(10 ** -3.7, 1)
    ax.yaxis.set_major_locator(FixedLocator([1e-2, 1]))
    ax.yaxis.set_minor_locator(NullLocator())
    ax.set_xlim(-18, 154.5)
    ax.tick_params(axis='x', bottom=False, labelbottom=False)
    ax.set_xlabel('')
    ax.set_title(title, loc='left', fontsize=10.5, pad=9)
    if first_col:
        ax.set_ylabel('Relative\nabundance', fontsize=12.5, linespacing=0.95)
        ax.yaxis.set_label_coords(-0.105, 0.5)
    else:
        ax.set_ylabel('')
        ax.tick_params(axis='y', labelleft=False)


def draw_freq(ax, times, layers, mean, msize, first_col, bottom):
    ax.fill_between([ABX_START, ABX_END], 0, 1.02, color=SPAN, lw=0, zorder=0)
    for rows, color, lw, alpha, z in layers:
        draw_lines(ax, times, rows, color, lw, alpha, z)
    if mean is not None:
        ax.plot(times, mean, color='black', lw=2.2, zorder=6)
        sns.scatterplot(x=times, y=mean, color=BLUE, s=msize, edgecolor='white',
                        linewidth=1.0, ax=ax, zorder=7, legend=False)
    ax.set_xlim(-18, 154.5)
    ax.set_ylim(0, 1.1)
    ax.set_yticks([0, 0.5, 1.0])
    ax.set_yticklabels(['0.0', '0.5', '1.0'])
    ax.set_xlabel('')
    ax.set_ylabel('')
    if first_col:
        ax.set_ylabel('Allele\nfrequency', fontsize=12.5, linespacing=0.95)
        ax.yaxis.set_label_coords(-0.085, 0.5)
    else:
        ax.tick_params(axis='y', labelleft=False)
    if bottom:
        ax.set_xticks(XTICKS)
        ax.set_xticklabels(XTICKLABELS)
        ax.set_xlabel('Time (days)', fontsize=12, labelpad=3)
    else:
        ax.tick_params(axis='x', bottom=False, labelbottom=False)


panels = [
    (0, 0, labund_a, TIMES_A,
     [(gray_a, GRAY_LINE, 1.0, 0.8, 1), (blue_a, BLUE, 1.1, 0.65, 3), (orange_a, ORANGE, 1.4, 0.6, 4)],
     mean_a, 80),
    (0, 1, labund_b, TIMES_B, [(gray_b, GRAY_LINE, 1.0, 0.8, 1)], None, 0),
    (0, 2, labund_c, TIMES,
     [(gray_c, GRAY_LINE, 1.0, 0.8, 1), (blue_c, BLUE, 1.6, 0.6, 3), (orange_c, ORANGE, 1.6, 0.6, 4)],
     None, 0),
    (1, 0, labund_d, TIMES,
     [(gray_d, GRAY_LINE, 1.0, 0.8, 1), (blue_d, BLUE, 1.3, 0.7, 3)], mean_d, 35),
    (1, 1, labund_e, TIMES,
     [(gray_e, GRAY_LINE, 1.0, 0.8, 1), (blue_e, BLUE, 1.6, 0.6, 3)], None, 0),
    (1, 2, labund_f, TIMES,
     [(gray_f, GRAY_LINE, 1.0, 0.8, 1), (blue_f, BLUE, 0.8, 0.6, 3),
      (orange_f, ORANGE, 1.6, 0.6, 4), (green_f, GREEN, 1.4, 0.6, 5)],
     mean_f, 90),
]

for k, (col, row, labund, ftimes, layers, mean, msize) in enumerate(panels):
    x0, x1 = (103, 640) if col == 0 else (668, 1201)
    off = 235 * row
    ax_ab = add_axes_px(x0, x1, 42 + off, 103 + off)
    ax_fr = add_axes_px(x0, x1, 107 + off, 230 + off)
    draw_abundance(ax_ab, labund, TITLES[k], col == 0)
    draw_freq(ax_fr, ftimes, layers, mean, msize, col == 0, row == 2)

fig.savefig('out.png', dpi=100)
